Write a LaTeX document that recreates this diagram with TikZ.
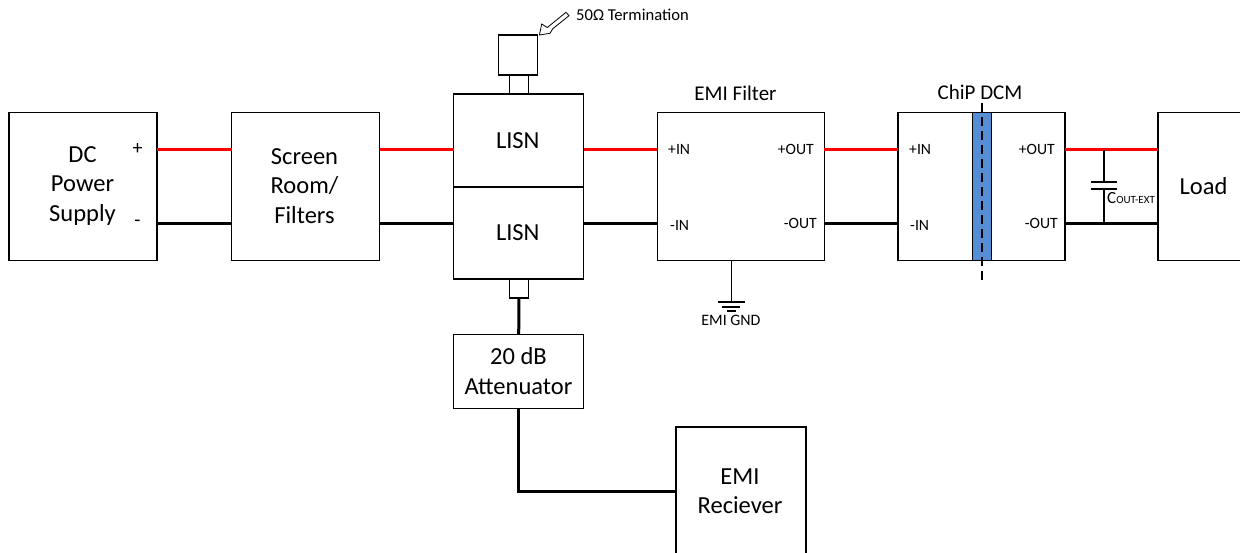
\documentclass[tikz,border=0pt]{standalone}
\usepackage{fontspec}
\setmainfont{Carlito}
\begin{document}
\begin{tikzpicture}[x=1pt,y=-1pt,
  blockbox/.style={draw=black,line width=1.4pt,fill=white,inner sep=0pt,outer sep=0pt,anchor=north west},
  bigtext/.style={inner sep=0pt,align=center,font=\fontsize{24.5}{29.3}\selectfont},
  pintext/.style={inner sep=0pt,font=\fontsize{15.7}{18}\selectfont},
  titletext/.style={inner sep=0pt,font=\fontsize{21}{24}\selectfont},
  redwire/.style={draw={rgb,255:red,255;green,0;blue,0},line width=3pt},
  blackwire/.style={draw=black,line width=3pt},
  thinwire/.style={draw=black,line width=1.1pt}]
\useasboundingbox (0,0) rectangle (1240,552);
\coordinate (redy) at (0,149.4);
\coordinate (blacky) at (0,223.4);
% blocks
\node[blockbox,minimum width=148pt,minimum height=148pt] (dc) at (9,112.5) {};
\node[blockbox,minimum width=148pt,minimum height=148pt] (screen) at (231.5,112.5) {};
\node[blockbox,minimum width=130pt,minimum height=93pt] (lisna) at (453.7,94) {};
\node[blockbox,minimum width=130pt,minimum height=92pt] (lisnb) at (453.7,186.8) {};
\node[blockbox,minimum width=39pt,minimum height=40pt] (term) at (498.5,35) {};
\node[blockbox,minimum width=19pt,minimum height=19pt] (stem) at (509.5,75) {};
\node[blockbox,minimum width=19pt,minimum height=19pt] (port) at (509.5,279) {};
\node[blockbox,minimum width=130pt,minimum height=74pt] (atten) at (453.7,334.5) {};
\node[blockbox,minimum width=130pt,minimum height=130pt] (recv) at (676,427) {};
\node[blockbox,minimum width=167pt,minimum height=148pt] (filter) at (657.3,112.5) {};
\node[blockbox,minimum width=167pt,minimum height=148pt] (dcm) at (898,112.5) {};
\node[blockbox,minimum width=90pt,minimum height=148pt] (load) at (1158,112.5) {};
\node[blockbox,fill={rgb,255:red,85;green,142;blue,213},minimum width=18.5pt,minimum height=148pt] (iso) at (972.7,112.5) {};
% block texts
\node[bigtext] (dct) at (82.5,186) {DC\\Power\\Supply};
\node[bigtext] (sct) at (304.5,186) {Screen\\Room/\\Filters};
\node[bigtext] (la) at (517.8,141) {LISN};
\node[bigtext] (lb) at (517.8,233) {LISN};
\node[bigtext] (att) at (518.5,371) {20 dB\\Attenuator};
\node[bigtext] (rct) at (740,491) {EMI\\Reciever};
\node[bigtext] (lot) at (1203.5,186) {Load};
\node[bigtext] (plus) at (137.5,149) {\fontsize{20}{22}\selectfont +};
\node[bigtext] (minus) at (137.5,223.5) {\fontsize{20}{22}\selectfont -};
\node[titletext] (ft) at (735.5,93.5) {EMI Filter};
\node[titletext] (ct) at (980,92) {ChiP DCM};
\node[pintext,anchor=west] (fa) at (668,149.5) {+IN};
\node[pintext,anchor=east] (fb) at (814,149) {+OUT};
\node[pintext,anchor=west] (fc) at (670,225) {-IN};
\node[pintext,anchor=east] (fd) at (817,223) {-OUT};
\node[pintext,anchor=west] (ca) at (909,149) {+IN};
\node[pintext,anchor=east] (cb) at (1055,149) {+OUT};
\node[pintext,anchor=west] (cc) at (910,225) {-IN};
\node[pintext,anchor=east] (cd) at (1058,223) {-OUT};
\node[pintext,anchor=west] (termt) at (576,15) {\fontsize{16.6}{18}\selectfont 50Ω Termination};
\node[pintext] (gt) at (731,320) {\fontsize{15.9}{18}\selectfont EMI GND};
\node[pintext,anchor=west] (cap) at (1107,198) {\fontsize{17}{18}\selectfont C{\fontsize{11}{12}\selectfont OUT-EXT}};
% wires
\draw[redwire] (dc.east |- redy) -- (screen.west |- redy);
\draw[redwire] (screen.east |- redy) -- (lisna.west |- redy);
\draw[redwire] (lisna.east |- redy) -- (filter.west |- redy);
\draw[redwire] (filter.east |- redy) -- (dcm.west |- redy);
\draw[redwire] (dcm.east |- redy) -- (load.west |- redy);
\draw[blackwire] (dc.east |- blacky) -- (screen.west |- blacky);
\draw[blackwire] (screen.east |- blacky) -- (lisnb.west |- blacky);
\draw[blackwire] (lisnb.east |- blacky) -- (filter.west |- blacky);
\draw[blackwire] (filter.east |- blacky) -- (dcm.west |- blacky);
\draw[blackwire] (dcm.east |- blacky) -- (load.west |- blacky);
\draw[blackwire] (port.south) -- (atten.north);
\coordinate (rline) at (0,491.7);
\draw[blackwire,line join=miter] (atten.south) -- (atten.south |- rline) -- (recv.west |- rline);
% isolation dashed line
\coordinate (isot) at (982,103);
\coordinate (isob) at (982,280);
\draw[thinwire,dash pattern=on 9pt off 5pt] (isot) -- (isob);
% capacitor
\coordinate (capt) at (1104,149.5);
\coordinate (capu) at (1104,182);
\coordinate (capl) at (1104,189);
\coordinate (capb) at (1104,223.5);
\draw[thinwire] (capt) -- (capu);
\draw[thinwire] (capl) -- (capb);
\draw[thinwire] (1091,182) -- (1117,182);
\draw[thinwire] (1091,189) -- (1117,189);
% ground
\coordinate (gnd) at (731.7,302);
\draw[thinwire] (filter.south -| gnd) -- (gnd);
\draw[thinwire] (718,302) -- (745,302);
\draw[thinwire] (722,307) -- (740,307);
\draw[thinwire] (727,311) -- (736,311);
% callout arrow
\draw[draw=black,line width=0.8pt,fill=white,line join=miter]
  (539.4,35) -- (541.7,24) -- (547.3,27.5) -- (566,12.3) -- (569,15.7) -- (552.7,28.8) -- (550,33.3) -- cycle;
\end{tikzpicture}
\end{document}
